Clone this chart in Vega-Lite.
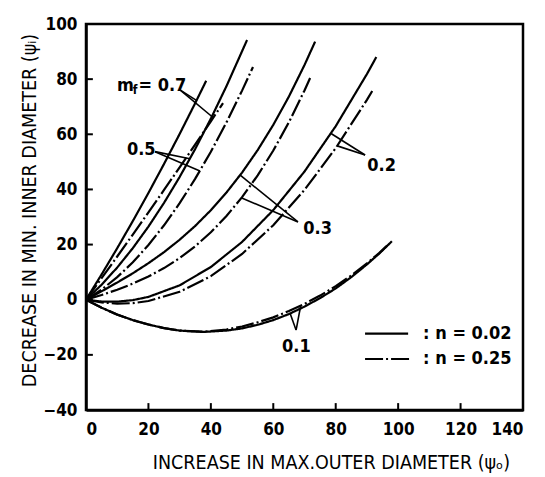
{
  "$schema": "https://vega.github.io/schema/vega-lite/v6.json",
  "width": 437,
  "height": 386,
  "autosize": {"type": "none"},
  "padding": {"left": 86, "top": 24, "right": 22, "bottom": 67},
  "background": "white",
  "config": {
    "view": {"stroke": "black", "strokeWidth": 2.5},
    "font": "DejaVu Sans Condensed, Liberation Sans Narrow, DejaVu Sans, sans-serif",
    "axis": {
      "grid": false,
      "ticks": false,
      "domainColor": "black",
      "domainWidth": 2.5,
      "labelColor": "black",
      "labelFont": "DejaVu Sans Condensed, Liberation Sans Narrow, DejaVu Sans, sans-serif",
      "labelFontSize": 17,
      "labelFontWeight": "bold",
      "titleColor": "black",
      "titleFont": "DejaVu Sans Condensed, Liberation Sans Narrow, DejaVu Sans, sans-serif",
      "titleFontSize": 19.5,
      "titleFontWeight": "normal"
    }
  },
  "datasets": {
    "curves": [
      {"s": "0.7a", "n": "0.02", "x": 0, "y": 0}, {"s": "0.7a", "n": "0.02", "x": 5, "y": 9.17}, {"s": "0.7a", "n": "0.02", "x": 10, "y": 18.68}, {"s": "0.7a", "n": "0.02", "x": 15, "y": 28.53}, {"s": "0.7a", "n": "0.02", "x": 20, "y": 38.72}, {"s": "0.7a", "n": "0.02", "x": 25, "y": 49.25}, {"s": "0.7a", "n": "0.02", "x": 30, "y": 60.12}, {"s": "0.7a", "n": "0.02", "x": 35, "y": 71.33}, {"s": "0.7a", "n": "0.02", "x": 38.5, "y": 79.4},
      {"s": "0.7b", "n": "0.25", "x": 0, "y": 0}, {"s": "0.7b", "n": "0.25", "x": 5, "y": 7.8}, {"s": "0.7b", "n": "0.25", "x": 10, "y": 15.67}, {"s": "0.7b", "n": "0.25", "x": 15, "y": 23.63}, {"s": "0.7b", "n": "0.25", "x": 20, "y": 31.68}, {"s": "0.7b", "n": "0.25", "x": 25, "y": 39.81}, {"s": "0.7b", "n": "0.25", "x": 30, "y": 48.03}, {"s": "0.7b", "n": "0.25", "x": 35, "y": 56.33}, {"s": "0.7b", "n": "0.25", "x": 40, "y": 64.72}, {"s": "0.7b", "n": "0.25", "x": 43.9, "y": 71.3},
      {"s": "0.5a", "n": "0.02", "x": 0, "y": 0}, {"s": "0.5a", "n": "0.02", "x": 5, "y": 5.45}, {"s": "0.5a", "n": "0.02", "x": 10, "y": 11.68}, {"s": "0.5a", "n": "0.02", "x": 15, "y": 18.71}, {"s": "0.5a", "n": "0.02", "x": 20, "y": 26.52}, {"s": "0.5a", "n": "0.02", "x": 25, "y": 35.13}, {"s": "0.5a", "n": "0.02", "x": 30, "y": 44.52}, {"s": "0.5a", "n": "0.02", "x": 35, "y": 54.71}, {"s": "0.5a", "n": "0.02", "x": 40, "y": 65.68}, {"s": "0.5a", "n": "0.02", "x": 45, "y": 77.45}, {"s": "0.5a", "n": "0.02", "x": 51.6, "y": 94.2},
      {"s": "0.5b", "n": "0.25", "x": 0, "y": 0}, {"s": "0.5b", "n": "0.25", "x": 5, "y": 3.66}, {"s": "0.5b", "n": "0.25", "x": 10, "y": 8.18}, {"s": "0.5b", "n": "0.25", "x": 15, "y": 13.58}, {"s": "0.5b", "n": "0.25", "x": 20, "y": 19.85}, {"s": "0.5b", "n": "0.25", "x": 25, "y": 27.0}, {"s": "0.5b", "n": "0.25", "x": 30, "y": 35.01}, {"s": "0.5b", "n": "0.25", "x": 35, "y": 43.9}, {"s": "0.5b", "n": "0.25", "x": 40, "y": 53.67}, {"s": "0.5b", "n": "0.25", "x": 45, "y": 64.32}, {"s": "0.5b", "n": "0.25", "x": 50, "y": 75.83}, {"s": "0.5b", "n": "0.25", "x": 53.5, "y": 84.4},
      {"s": "0.3a", "n": "0.02", "x": 0, "y": 0}, {"s": "0.3a", "n": "0.02", "x": 5, "y": 3.06}, {"s": "0.3a", "n": "0.02", "x": 10, "y": 6.23}, {"s": "0.3a", "n": "0.02", "x": 15, "y": 9.59}, {"s": "0.3a", "n": "0.02", "x": 20, "y": 13.24}, {"s": "0.3a", "n": "0.02", "x": 25, "y": 17.25}, {"s": "0.3a", "n": "0.02", "x": 30, "y": 21.75}, {"s": "0.3a", "n": "0.02", "x": 35, "y": 26.78}, {"s": "0.3a", "n": "0.02", "x": 40, "y": 32.46}, {"s": "0.3a", "n": "0.02", "x": 45, "y": 38.88}, {"s": "0.3a", "n": "0.02", "x": 50, "y": 46.12}, {"s": "0.3a", "n": "0.02", "x": 55, "y": 54.27}, {"s": "0.3a", "n": "0.02", "x": 60, "y": 63.43}, {"s": "0.3a", "n": "0.02", "x": 65, "y": 73.68}, {"s": "0.3a", "n": "0.02", "x": 70, "y": 85.12}, {"s": "0.3a", "n": "0.02", "x": 73.4, "y": 93.6},
      {"s": "0.3b", "n": "0.25", "x": 0, "y": 0}, {"s": "0.3b", "n": "0.25", "x": 5, "y": 1.71}, {"s": "0.3b", "n": "0.25", "x": 10, "y": 3.62}, {"s": "0.3b", "n": "0.25", "x": 15, "y": 5.83}, {"s": "0.3b", "n": "0.25", "x": 20, "y": 8.41}, {"s": "0.3b", "n": "0.25", "x": 25, "y": 11.48}, {"s": "0.3b", "n": "0.25", "x": 30, "y": 15.1}, {"s": "0.3b", "n": "0.25", "x": 35, "y": 19.4}, {"s": "0.3b", "n": "0.25", "x": 40, "y": 24.45}, {"s": "0.3b", "n": "0.25", "x": 45, "y": 30.36}, {"s": "0.3b", "n": "0.25", "x": 50, "y": 37.2}, {"s": "0.3b", "n": "0.25", "x": 55, "y": 45.09}, {"s": "0.3b", "n": "0.25", "x": 60, "y": 54.1}, {"s": "0.3b", "n": "0.25", "x": 65, "y": 64.35}, {"s": "0.3b", "n": "0.25", "x": 70, "y": 75.9}, {"s": "0.3b", "n": "0.25", "x": 71.8, "y": 80.4},
      {"s": "0.2a", "n": "0.02", "x": 0, "y": 0}, {"s": "0.2a", "n": "0.02", "x": 5, "y": -0.66}, {"s": "0.2a", "n": "0.02", "x": 10, "y": -0.71}, {"s": "0.2a", "n": "0.02", "x": 15, "y": -0.15}, {"s": "0.2a", "n": "0.02", "x": 20, "y": 1.02}, {"s": "0.2a", "n": "0.02", "x": 30, "y": 5.21}, {"s": "0.2a", "n": "0.02", "x": 40, "y": 11.86}, {"s": "0.2a", "n": "0.02", "x": 50, "y": 20.95}, {"s": "0.2a", "n": "0.02", "x": 60, "y": 32.5}, {"s": "0.2a", "n": "0.02", "x": 70, "y": 46.49}, {"s": "0.2a", "n": "0.02", "x": 80, "y": 62.94}, {"s": "0.2a", "n": "0.02", "x": 90, "y": 81.85}, {"s": "0.2a", "n": "0.02", "x": 93, "y": 88.0},
      {"s": "0.2b", "n": "0.25", "x": 0, "y": 0}, {"s": "0.2b", "n": "0.25", "x": 5, "y": -1.0}, {"s": "0.2b", "n": "0.25", "x": 10, "y": -1.42}, {"s": "0.2b", "n": "0.25", "x": 15, "y": -1.24}, {"s": "0.2b", "n": "0.25", "x": 20, "y": -0.46}, {"s": "0.2b", "n": "0.25", "x": 30, "y": 2.86}, {"s": "0.2b", "n": "0.25", "x": 40, "y": 8.54}, {"s": "0.2b", "n": "0.25", "x": 50, "y": 16.6}, {"s": "0.2b", "n": "0.25", "x": 60, "y": 27.02}, {"s": "0.2b", "n": "0.25", "x": 70, "y": 39.82}, {"s": "0.2b", "n": "0.25", "x": 80, "y": 54.98}, {"s": "0.2b", "n": "0.25", "x": 90, "y": 72.5}, {"s": "0.2b", "n": "0.25", "x": 91.7, "y": 75.72},
      {"s": "0.1a", "n": "0.02", "x": 0, "y": 0}, {"s": "0.1a", "n": "0.02", "x": 5, "y": -2.9}, {"s": "0.1a", "n": "0.02", "x": 10, "y": -5.4}, {"s": "0.1a", "n": "0.02", "x": 15, "y": -7.4}, {"s": "0.1a", "n": "0.02", "x": 20, "y": -9.0}, {"s": "0.1a", "n": "0.02", "x": 25, "y": -10.3}, {"s": "0.1a", "n": "0.02", "x": 30, "y": -11.2}, {"s": "0.1a", "n": "0.02", "x": 37.5, "y": -11.7}, {"s": "0.1a", "n": "0.02", "x": 45, "y": -11.2}, {"s": "0.1a", "n": "0.02", "x": 50, "y": -10.4}, {"s": "0.1a", "n": "0.02", "x": 55, "y": -9.1}, {"s": "0.1a", "n": "0.02", "x": 60, "y": -7.4}, {"s": "0.1a", "n": "0.02", "x": 65, "y": -5.2}, {"s": "0.1a", "n": "0.02", "x": 70, "y": -2.5}, {"s": "0.1a", "n": "0.02", "x": 75, "y": 0.6}, {"s": "0.1a", "n": "0.02", "x": 80, "y": 4.1}, {"s": "0.1a", "n": "0.02", "x": 85, "y": 8.2}, {"s": "0.1a", "n": "0.02", "x": 90, "y": 12.8}, {"s": "0.1a", "n": "0.02", "x": 94, "y": 16.8}, {"s": "0.1a", "n": "0.02", "x": 98, "y": 21.2},
      {"s": "0.1b", "n": "0.25", "x": 0, "y": 0}, {"s": "0.1b", "n": "0.25", "x": 5, "y": -2.9}, {"s": "0.1b", "n": "0.25", "x": 10, "y": -5.4}, {"s": "0.1b", "n": "0.25", "x": 15, "y": -7.4}, {"s": "0.1b", "n": "0.25", "x": 20, "y": -9.0}, {"s": "0.1b", "n": "0.25", "x": 25, "y": -10.3}, {"s": "0.1b", "n": "0.25", "x": 30, "y": -11.2}, {"s": "0.1b", "n": "0.25", "x": 37.5, "y": -11.6}, {"s": "0.1b", "n": "0.25", "x": 45, "y": -10.8}, {"s": "0.1b", "n": "0.25", "x": 50, "y": -9.7}, {"s": "0.1b", "n": "0.25", "x": 55, "y": -8.2}, {"s": "0.1b", "n": "0.25", "x": 60, "y": -6.4}, {"s": "0.1b", "n": "0.25", "x": 65, "y": -4.1}, {"s": "0.1b", "n": "0.25", "x": 70, "y": -1.5}, {"s": "0.1b", "n": "0.25", "x": 75, "y": 1.5}, {"s": "0.1b", "n": "0.25", "x": 80, "y": 4.9}, {"s": "0.1b", "n": "0.25", "x": 85, "y": 8.8}, {"s": "0.1b", "n": "0.25", "x": 90, "y": 13.2}, {"s": "0.1b", "n": "0.25", "x": 94, "y": 17.0}, {"s": "0.1b", "n": "0.25", "x": 97, "y": 20.2}
    ],
    "pointers": [
      {"x": 30.1, "y": 76.1, "x2": 35.5, "y2": 72.2},
      {"x": 30.1, "y": 76.1, "x2": 40.8, "y2": 66.0},
      {"x": 22.1, "y": 53.7, "x2": 33.3, "y2": 51.1},
      {"x": 22.1, "y": 53.7, "x2": 36.5, "y2": 46.7},
      {"x": 67.9, "y": 28.2, "x2": 49.4, "y2": 45.2},
      {"x": 67.9, "y": 28.2, "x2": 49.9, "y2": 36.9},
      {"x": 89.4, "y": 52.5, "x2": 78.5, "y2": 60.3},
      {"x": 89.4, "y": 52.5, "x2": 80.5, "y2": 55.8},
      {"x": 67.3, "y": -11.0, "x2": 65.4, "y2": -5.0},
      {"x": 67.3, "y": -11.0, "x2": 68.8, "y2": -2.1}
    ],
    "xticks": [
      {"x": 20, "y": -40, "y2": -37.5}, {"x": 40, "y": -40, "y2": -37.5}, {"x": 60, "y": -40, "y2": -37.5},
      {"x": 80, "y": -40, "y2": -37.5}, {"x": 100, "y": -40, "y2": -37.5}, {"x": 120, "y": -40, "y2": -37.5}
    ],
    "yticks": [
      {"y": -20, "x": 0, "x2": 2.2}, {"y": 0, "x": 0, "x2": 2.2}, {"y": 20, "x": 0, "x2": 2.2},
      {"y": 40, "x": 0, "x2": 2.2}, {"y": 60, "x": 0, "x2": 2.2}, {"y": 80, "x": 0, "x2": 2.2}
    ],
    "labels": [
      {"x": 9.9, "y": 77.5, "t": "m", "sz": 18},
      {"x": 15.0, "y": 76.0, "t": "f", "sz": 12},
      {"x": 16.8, "y": 77.5, "t": "= 0.7", "sz": 18},
      {"x": 13.1, "y": 54.3, "t": "0.5", "sz": 18},
      {"x": 69.6, "y": 25.6, "t": "0.3", "sz": 18},
      {"x": 90.1, "y": 48.5, "t": "0.2", "sz": 18},
      {"x": 62.8, "y": -17.2, "t": "0.1", "sz": 18},
      {"x": 108, "y": -12.3, "t": ": n = 0.02", "sz": 18},
      {"x": 108, "y": -21.5, "t": ": n = 0.25", "sz": 18}
    ],
    "legend": [
      {"x": 89.4, "x2": 103.2, "y": -12.3, "n": "0.02"},
      {"x": 89.4, "x2": 103.8, "y": -21.5, "n": "0.25"}
    ]
  },
  "layer": [
    {
      "data": {"name": "curves"},
      "mark": {"type": "line", "color": "black", "strokeWidth": 2.2, "clip": true},
      "encoding": {
        "x": {"field": "x", "type": "quantitative", "scale": {"domain": [0, 140], "nice": false},
              "axis": {"values": [0, 20, 40, 60, 80, 100, 120, 140], "labelPadding": 11, "title": "INCREASE  IN  MAX.OUTER  DIAMETER  (ψₒ)", "titleX": 245, "titleY": 52, "titleBaseline": "middle", "titleAlign": "center"}},
        "y": {"field": "y", "type": "quantitative", "scale": {"domain": [-40, 100], "nice": false},
              "axis": {"values": [-40, -20, 0, 20, 40, 60, 80, 100], "labelPadding": 9, "title": "DECREASE  IN  MIN. INNER  DIAMETER (ψᵢ)", "titleX": -57, "titleY": 186, "titleBaseline": "middle", "titleAlign": "center", "titleAngle": 270}},
        "detail": {"field": "s"},
        "strokeDash": {"field": "n", "type": "nominal", "scale": {"domain": ["0.02", "0.25"], "range": [[1, 0], [18, 3, 2, 3]]}, "legend": null}
      }
    },
    {
      "data": {"name": "xticks"},
      "mark": {"type": "rule", "color": "black", "strokeWidth": 2},
      "encoding": {
        "x": {"field": "x", "type": "quantitative"},
        "y": {"field": "y", "type": "quantitative"},
        "y2": {"field": "y2"}
      }
    },
    {
      "data": {"name": "yticks"},
      "mark": {"type": "rule", "color": "black", "strokeWidth": 2},
      "encoding": {
        "x": {"field": "x", "type": "quantitative"},
        "x2": {"field": "x2"},
        "y": {"field": "y", "type": "quantitative"}
      }
    },
    {
      "data": {"name": "pointers"},
      "mark": {"type": "rule", "color": "black", "strokeWidth": 1.6},
      "encoding": {
        "x": {"field": "x", "type": "quantitative"},
        "y": {"field": "y", "type": "quantitative"},
        "x2": {"field": "x2"},
        "y2": {"field": "y2"}
      }
    },
    {
      "data": {"name": "legend"},
      "mark": {"type": "rule", "color": "black", "strokeWidth": 2.2},
      "encoding": {
        "x": {"field": "x", "type": "quantitative"},
        "x2": {"field": "x2"},
        "y": {"field": "y", "type": "quantitative"},
        "strokeDash": {"field": "n", "type": "nominal", "legend": null}
      }
    },
    {
      "data": {"name": "labels"},
      "mark": {"type": "text", "align": "left", "baseline": "middle", "color": "black", "fontWeight": "bold", "font": "DejaVu Sans Condensed, Liberation Sans Narrow, DejaVu Sans, sans-serif"},
      "encoding": {
        "x": {"field": "x", "type": "quantitative"},
        "y": {"field": "y", "type": "quantitative"},
        "text": {"field": "t"},
        "size": {"field": "sz", "type": "quantitative", "scale": null}
      }
    }
  ]
}
